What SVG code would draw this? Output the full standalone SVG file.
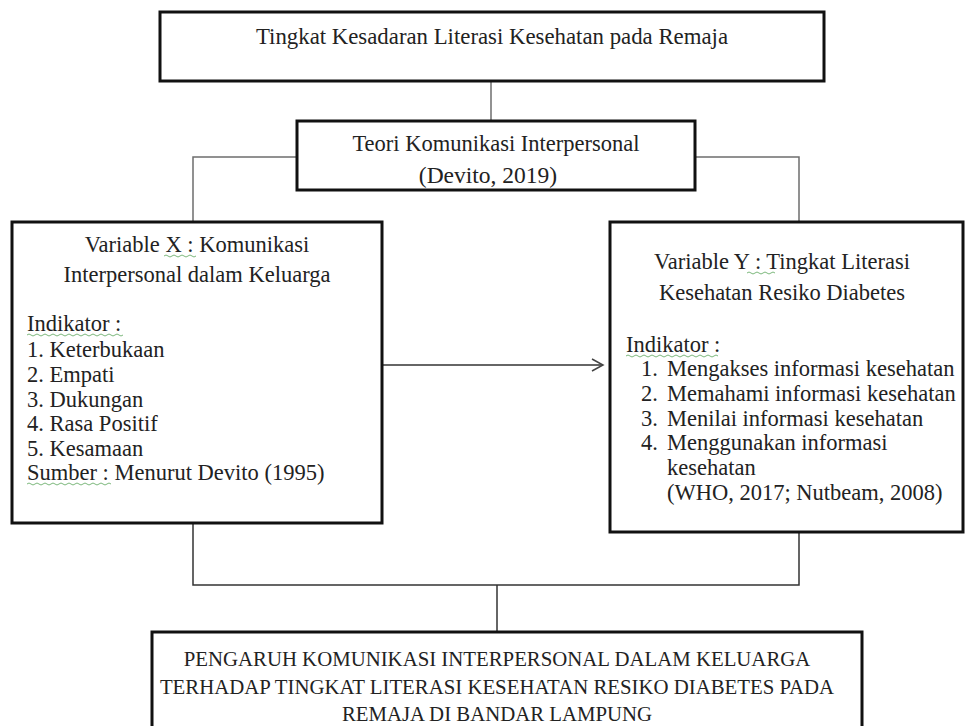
<svg xmlns="http://www.w3.org/2000/svg" width="969" height="726" viewBox="0 0 969 726">
<defs>
<style>
.box{fill:#fff;stroke:#111;stroke-width:3}
.conn{fill:none;stroke:#6e6e6e;stroke-width:1.5}
.dark{fill:none;stroke:#333;stroke-width:1.5}
text{font-family:"Liberation Serif","Times New Roman","DejaVu Serif",serif;fill:#222;font-size:22.5px}
.c{text-anchor:middle}
.cap{font-size:20.8px}
.sq{fill:none;stroke:#7cb87c;stroke-width:1}
</style>
<marker id="arr" markerWidth="14" markerHeight="14" refX="12" refY="7" orient="auto" markerUnits="userSpaceOnUse">
<path d="M1,1 L12,7 L1,13" fill="none" stroke="#444" stroke-width="1.5"/>
</marker>
</defs>
<rect width="969" height="726" fill="#fff"/>
<g id="connectors">
<line class="conn" x1="491" y1="81" x2="491" y2="121"/>
<polyline class="conn" points="297,157 193,157 193,222"/>
<polyline class="conn" points="695,157 799,157 799,222"/>
<line class="dark" x1="382" y1="365" x2="603" y2="365" marker-end="url(#arr)"/>
<polyline class="dark" points="193,523 193,585 799,585 799,532"/>
<line class="dark" x1="497" y1="585" x2="497" y2="632"/>
</g>
<g id="top">
<rect class="box" x="160" y="12" width="664" height="69"/>
<text class="c" x="492" y="44" style="font-size:22.8px">Tingkat Kesadaran Literasi Kesehatan pada Remaja</text>
</g>
<g id="theory">
<rect class="box" x="297" y="121" width="398" height="69"/>
<text class="c" x="496" y="151">Teori Komunikasi Interpersonal</text>
<text class="c" x="488" y="183" style="font-size:23.5px">(Devito, 2019)</text>
</g>
<g id="varx">
<rect class="box" x="12" y="222" width="370" height="301"/>
<text class="c" x="197" y="252">Variable X : Komunikasi</text>
<path class="sq" d="M164,256 q2,-2 4,0 t4,0 t4,0 t4,0 t4,0 t4,0 t4,0 t4,0"/>
<text class="c" x="197" y="282">Interpersonal dalam Keluarga</text>
<text x="27" y="331">Indikator :</text>
<path class="sq" d="M27,335 q2,-2 4,0 t4,0 t4,0 t4,0 t4,0 t4,0 t4,0 t4,0 t4,0 t4,0 t4,0 t4,0 t4,0 t4,0 t4,0 t4,0 t4,0 t4,0 t4,0 t4,0 t4,0 t4,0 t4,0 t4,0"/>
<text x="27" y="357">1. Keterbukaan</text>
<text x="27" y="382">2. Empati</text>
<text x="27" y="407">3. Dukungan</text>
<text x="27" y="431">4. Rasa Positif</text>
<text x="27" y="456">5. Kesamaan</text>
<text x="27" y="480">Sumber : Menurut Devito (1995)</text>
<path class="sq" d="M27,484 q2,-2 4,0 t4,0 t4,0 t4,0 t4,0 t4,0 t4,0 t4,0 t4,0 t4,0 t4,0 t4,0 t4,0 t4,0 t4,0 t4,0 t4,0 t4,0 t4,0 t4,0 t4,0"/>
</g>
<g id="vary">
<rect class="box" x="610" y="222" width="353" height="310"/>
<text class="c" x="782" y="269">Variable Y : Tingkat Literasi</text>
<path class="sq" d="M747,273 q2,-2 4,0 t4,0 t4,0 t4,0 t4,0 t4,0 t4,0"/>
<text class="c" x="782" y="300">Kesehatan Resiko Diabetes</text>
<text x="626" y="352">Indikator :</text>
<path class="sq" d="M626,356 q2,-2 4,0 t4,0 t4,0 t4,0 t4,0 t4,0 t4,0 t4,0 t4,0 t4,0 t4,0 t4,0 t4,0 t4,0 t4,0 t4,0 t4,0 t4,0 t4,0 t4,0 t4,0 t4,0 t4,0"/>
<text x="641" y="376">1.</text>
<text x="667" y="376">Mengakses informasi kesehatan</text>
<text x="641" y="401">2.</text>
<text x="667" y="401">Memahami informasi kesehatan</text>
<text x="641" y="426">3.</text>
<text x="667" y="426">Menilai informasi kesehatan</text>
<text x="641" y="450">4.</text>
<text x="667" y="450">Menggunakan informasi</text>
<text x="667" y="475">kesehatan</text>
<text x="667" y="500">(WHO, 2017; Nutbeam, 2008)</text>
</g>
<g id="result">
<rect class="box" x="152" y="632" width="710" height="110"/>
<text class="c cap" x="497" y="666">PENGARUH KOMUNIKASI INTERPERSONAL DALAM KELUARGA</text>
<text class="c cap" x="497" y="694">TERHADAP TINGKAT LITERASI KESEHATAN RESIKO DIABETES PADA</text>
<text class="c cap" x="497" y="721">REMAJA DI BANDAR LAMPUNG</text>
</g>
</svg>
